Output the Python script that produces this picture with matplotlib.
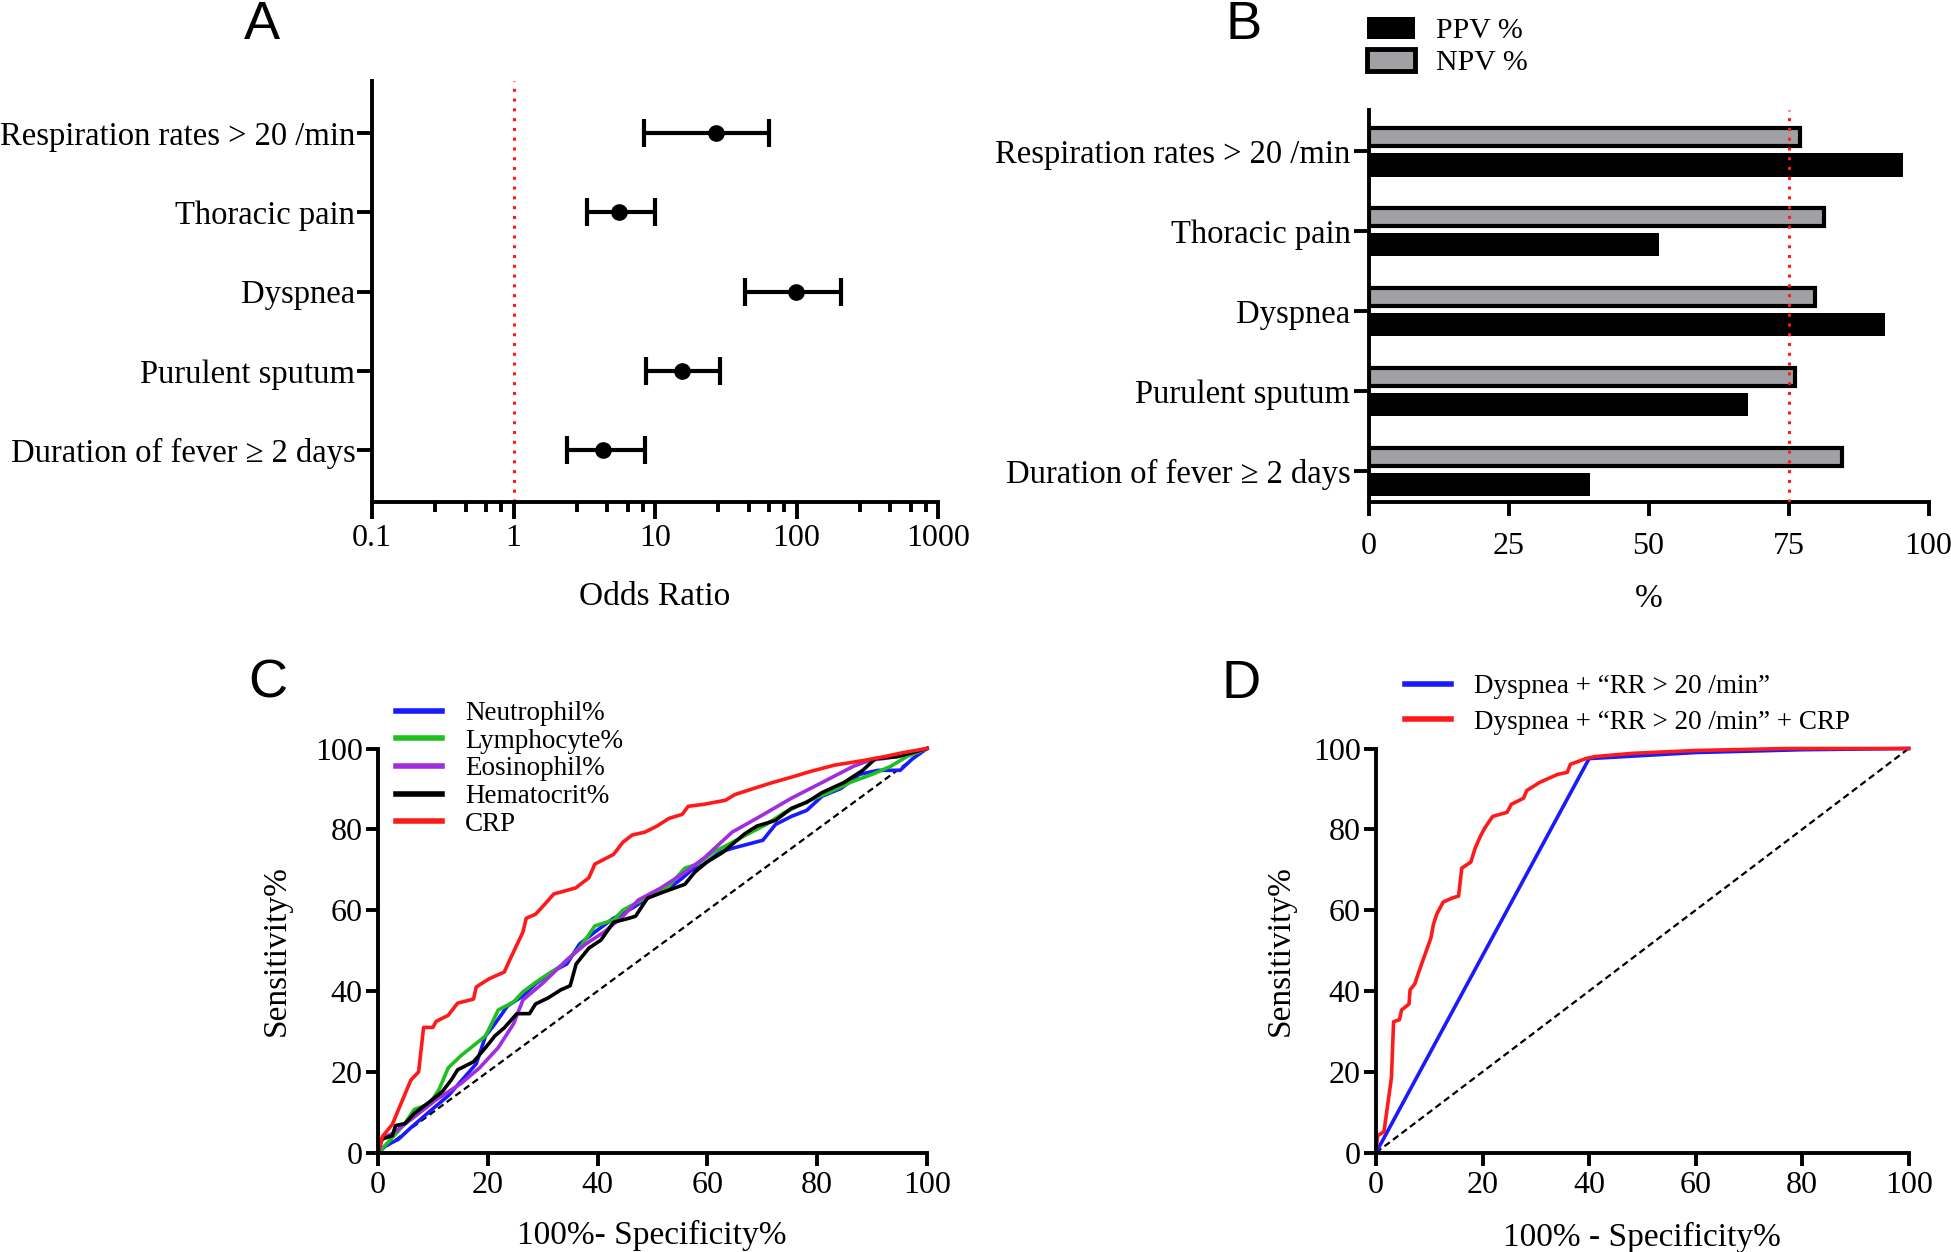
import matplotlib
matplotlib.use('Agg')
import matplotlib.pyplot as plt
from matplotlib.patches import Patch
from matplotlib.lines import Line2D

plt.rcParams['font.family'] = ['Liberation Serif', 'DejaVu Serif']

W, H = 1951, 1252

# Panel A: odds ratios with 95% CI
categories = ['Respiration rates > 20 /min', 'Thoracic pain', 'Dyspnea',
              'Purulent sputum', 'Duration of fever \u2265 2 days']
or_point = [27, 5.6, 99, 15.5, 4.3]
or_low = [8.3, 3.3, 43, 8.6, 2.4]
or_high = [64, 10, 205, 29, 8.5]
or_ticks = [0.1, 1, 10, 100, 1000]
or_tick_labels = ['0.1', '1', '10', '100', '1000']

# Panel B: predictive values
ppv = [95.4, 51.8, 92.2, 67.7, 39.5]
npv = [77.0, 81.4, 79.8, 76.1, 84.5]
pv_ticks = [0, 25, 50, 75, 100]
pv_cutoff = 75

# Panel C: ROC curves of lab values
neut_x = [0, 1.5, 3.7, 6, 9.4, 12.8, 15.7, 17.9, 19.6, 21.3, 23.6, 26.4, 28.7, 31.6, 34.4, 36.7,
          39.5, 42.9, 46.3, 49.1, 52.6, 55.4, 57.1, 59.4, 62.2, 64.5, 67.3, 70.1, 72.4, 75.3,
          78.1, 80.9, 84.3, 87.7, 91.1, 95.1, 97.4, 100]
neut_y = [0, 1.8, 3.3, 6.2, 10.2, 14.1, 18.6, 22, 28.9, 31.9, 36.3, 38.8, 41.8, 44.7, 46.7, 51.6,
          54.6, 58, 60.5, 63, 65, 67.9, 69.9, 71.4, 74.3, 75.3, 76.3, 77.3, 81.2, 83.2,
          84.7, 88.2, 90.1, 93.6, 94.6, 94.6, 97.5, 100]
lymph_x = [0, 2, 4.9, 6.6, 9.4, 11.1, 12.8, 15.1, 17.4, 19.6, 21.9, 24.7, 26.4, 29.3, 33.3, 36.7,
           39.5, 42.9, 44.6, 48, 52.6, 55.9, 58.2, 61, 63.9, 67.3, 70.7, 74.1, 78.7, 82.1, 86,
           90, 93.4, 96.3, 100]
lymph_y = [0, 2.8, 7.2, 10.7, 12.1, 15.6, 21, 24, 26.5, 28.9, 35.3, 37.3, 39.8, 42.7, 46.2, 50.6,
           56.1, 57.6, 60, 62.5, 65.4, 70.4, 71.4, 74.3, 76.3, 78.8, 81.2, 84.2, 87.2, 89.1, 91.6,
           93.6, 95.6, 98, 100]
eos_x = [0, 0.9, 2.6, 6, 10.6, 15.1, 18.5, 21.9, 24.7, 26.4, 29.9, 34.4, 37.8, 41.2, 44.6, 47.4,
         51.4, 55.4, 59.4, 64.5, 69.6, 75.3, 80.9, 86.6, 89.4, 94.6, 100]
eos_y = [0, 3.8, 4.7, 8.2, 13.1, 17.1, 21, 26, 31.9, 37.8, 41.8, 47.7, 51.6, 54.6, 58.5, 62.5,
         65.4, 68.9, 72.9, 79.3, 83.2, 87.7, 91.6, 95.6, 97, 98, 100]
hct_x = [0, 0.6, 2.6, 3.2, 4.9, 6.6, 9.4, 11.7, 13.4, 14.5, 17.4, 19.6, 21.3, 23, 25.3, 27.6, 28.7,
         31, 33.3, 35, 36.1, 38.4, 40.6, 42.9, 45.7, 46.9, 49.1, 52, 55.9, 57.7, 59.9, 62.8, 66.7,
         69, 72.4, 75.3, 78.1, 80.9, 84.9, 88.3, 90.6, 94.6, 100]
hct_y = [0, 3.3, 4.2, 6.7, 7.2, 9.7, 12.6, 15.1, 18.1, 20.5, 22.5, 26, 28.9, 30.9, 34.4, 34.4, 36.8,
         38.3, 40.3, 41.3, 46.7, 50.6, 52.6, 57, 58, 58.5, 63, 64.5, 66.4, 69.4, 71.9, 74.3, 78.8,
         80.8, 82.2, 85.2, 86.7, 89.1, 91.6, 94.6, 97.5, 98, 100]
crp_x = [0, 0.8, 2.6, 6, 7.4, 8.3, 10, 10.6, 12.8, 14.5, 17.4, 17.9, 20.2, 23, 24, 26.4, 27, 28.7,
         30.4, 32, 36, 38.4, 39.5, 42.9, 44.6, 46.3, 48.6, 50.8, 53, 55.4, 56.5, 59.4, 63.3, 65,
         68.4, 71.9, 75.3, 78.7, 83.2, 88.3, 92.3, 95.7, 100]
crp_y = [0, 4, 7, 18, 20, 31, 31, 32.5, 34, 37, 38, 41, 43, 44.7, 47.7, 54.6, 58, 59,
         61.5, 64, 65.5, 68, 71.4, 73.8, 76.8, 78.6, 79.3, 80.8, 82.7, 83.7, 85.7, 86.2, 87.2, 88.6,
         90.1, 91.6, 92.9, 94.3, 95.9, 97, 98, 99, 100]

# Panel D: combined scores
combo_x = [0, 40, 60, 80, 100]
combo_y = [0, 97.5, 99, 99.7, 100]
combo_crp_x = [0, 0.3, 1.5, 2.9, 3.3, 4.4, 4.8, 6.2, 6.4, 7.3, 7.9, 8.7, 10.3, 10.8, 11.4, 12.6,
               14.3, 15.5, 16.1, 17.8, 18.6, 19.6, 20.4, 21.9, 24.6, 25.4, 27.7, 28.3, 30.7, 34.1,
               35.9, 36.5, 39.4, 41.1, 48.1, 59.8, 77.3, 100]
combo_crp_y = [0, 4.2, 5.2, 18.6, 32.4, 32.9, 35.3, 36.8, 40.3, 41.8, 44.2, 47.2, 53.1, 56.6, 59,
               62, 63, 63.5, 70.4, 71.9, 75.3, 78.3, 80.3, 83.2, 84.2, 86.2, 87.7, 89.6, 91.6, 93.6,
               94.1, 96.1, 97.5, 98, 98.8, 99.5, 100, 100]
roc_ticks = [0, 20, 40, 60, 80, 100]

RED = '#ff1a1a'
GRAY = '#a1a1a5'
SPINE_LW = 2.8
TICK_FS = 23
CAT_FS = 23.5
LABEL_FS = 24
LETTER_FONT = ['Liberation Sans Narrow', 'Liberation Sans', 'DejaVu Sans']


def style_axes(ax):
    for side in ['top', 'right']:
        ax.spines[side].set_visible(False)
    for side in ['left', 'bottom']:
        ax.spines[side].set_linewidth(SPINE_LW)
        ax.spines[side].set_capstyle('projecting')


def fig_pos(x0, y0, x1, y1):
    return [x0 / W, 1 - y1 / H, (x1 - x0) / W, (y1 - y0) / H]


def plot_or(ax):
    ypos = list(range(len(categories)))
    xerr = [[p - l for p, l in zip(or_point, or_low)],
            [h - p for p, h in zip(or_point, or_high)]]
    ax.errorbar(or_point, ypos, xerr=xerr, fmt='o', color='k', ms=11,
                elinewidth=3, capsize=10, capthick=3, clip_on=False)
    ax.axvline(1, color=RED, lw=2.2, ls=(0, (1, 2.2)))
    ax.set_xscale('log')
    ax.set_xlim(0.1, 1000)
    ax.set_ylim(4.65, -0.66)
    ax.set_xticks(or_ticks)
    ax.set_xticklabels(or_tick_labels)
    minor = [d * (1 + 1.8 * k) for d in or_ticks[:-1] for k in range(1, 5)]
    ax.set_xticks(minor, minor=True)
    ax.set_yticks(ypos)
    ax.set_yticklabels(categories, fontsize=CAT_FS)
    style_axes(ax)
    ax.tick_params(axis='x', which='major', length=12, width=SPINE_LW, labelsize=TICK_FS, pad=4)
    ax.tick_params(axis='x', which='minor', length=7, width=SPINE_LW, labelbottom=False)
    ax.tick_params(axis='y', length=11, width=SPINE_LW, pad=1)
    ax.set_xlabel('Odds Ratio', fontsize=LABEL_FS, va='center')
    ax.xaxis.set_label_coords(655 / W, 1 - 597 / H, transform=ax.figure.transFigure)


def plot_pv(ax):
    ypos = list(range(len(categories)))
    ax.barh([y - 0.18 for y in ypos], npv, height=0.23, color=GRAY,
            edgecolor='k', linewidth=3, label='NPV %', zorder=2)
    ax.barh([y + 0.17 for y in ypos], ppv, height=0.29, color='k',
            edgecolor='k', linewidth=0, label='PPV %', zorder=2)
    ax.axvline(pv_cutoff, color=RED, lw=2.2, ls=(0, (1, 2.2)), zorder=3)
    ax.set_xlim(0, 100)
    ax.set_ylim(4.38, -0.52)
    ax.set_xticks(pv_ticks)
    ax.set_yticks(ypos)
    ax.set_yticklabels(categories, fontsize=CAT_FS)
    style_axes(ax)
    ax.tick_params(axis='x', length=10, width=SPINE_LW, labelsize=TICK_FS, pad=12)
    ax.tick_params(axis='y', length=11, width=SPINE_LW, pad=2)
    ax.set_xlabel('%', fontsize=LABEL_FS, va='center')
    ax.xaxis.set_label_coords(1649 / W, 1 - 599 / H, transform=ax.figure.transFigure)
    handles = [Patch(facecolor='k', edgecolor='k', linewidth=0),
               Patch(facecolor=GRAY, edgecolor='k', linewidth=3.5)]
    ax.legend(handles, ['PPV %', 'NPV %'], loc='upper left',
              bbox_to_anchor=(1367 / W, 1 - 17 / H), bbox_transform=ax.figure.transFigure,
              frameon=False, borderpad=0, borderaxespad=0, fontsize=21.5,
              handlelength=1.6, handleheight=0.76, handletextpad=0.7, labelspacing=0.15)


def plot_roc(ax, curves, xlabel, xlabel_pos, ylabel_pos, legend_pos, labelspacing):
    ax.plot([0, 100], [0, 100], color='k', lw=1.6, ls=(0, (3, 1.8)), zorder=1)
    for x, y, colour, name in curves:
        ax.plot(x, y, color=colour, lw=2.6, label=name, clip_on=False, zorder=2)
    ax.set_xlim(0, 100)
    ax.set_ylim(0, 100)
    ax.set_xticks(roc_ticks)
    ax.set_yticks(roc_ticks)
    style_axes(ax)
    ax.tick_params(length=9, width=SPINE_LW, labelsize=TICK_FS)
    ax.tick_params(axis='x', pad=4)
    ax.tick_params(axis='y', pad=2)
    ax.set_xlabel(xlabel, fontsize=LABEL_FS, va='center')
    ax.xaxis.set_label_coords(xlabel_pos[0] / W, 1 - xlabel_pos[1] / H, transform=ax.figure.transFigure)
    ax.set_ylabel('Sensitivity%', fontsize=LABEL_FS, va='center')
    ax.yaxis.set_label_coords(ylabel_pos[0] / W, 1 - ylabel_pos[1] / H, transform=ax.figure.transFigure)
    handles = [Line2D([], [], color=c[2], lw=4) for c in curves]
    ax.legend(handles, [c[3] for c in curves], loc='upper left',
              bbox_to_anchor=(legend_pos[0] / W, 1 - legend_pos[1] / H),
              bbox_transform=ax.figure.transFigure, frameon=False, borderpad=0,
              borderaxespad=0, fontsize=19.5, handlelength=1.7, handletextpad=0.85,
              labelspacing=labelspacing)


def main():
    fig = plt.figure(figsize=(W / 100, H / 100), dpi=100)
    ax_a = fig.add_axes(fig_pos(372, 81, 938, 501.5))
    ax_b = fig.add_axes(fig_pos(1368.5, 109.8, 1928.6, 501.5))
    ax_c = fig.add_axes(fig_pos(378, 748.5, 927, 1152.7))
    ax_d = fig.add_axes(fig_pos(1376, 748.5, 1908.7, 1152.7))

    plot_or(ax_a)
    plot_pv(ax_b)
    plot_roc(ax_c,
             [(neut_x, neut_y, '#1a1aff', 'Neutrophil%'),
              (lymph_x, lymph_y, '#1fbf1f', 'Lymphocyte%'),
              (eos_x, eos_y, '#a02ee0', 'Eosinophil%'),
              (hct_x, hct_y, 'k', 'Hematocrit%'),
              (crp_x, crp_y, RED, 'CRP')],
             '100%- Specificity%', (652, 1235), (277, 951), (396, 701), 0.1)
    plot_roc(ax_d,
             [(combo_x, combo_y, '#1a1aff', 'Dyspnea + \u201cRR > 20 /min\u201d'),
              (combo_crp_x, combo_crp_y, RED, 'Dyspnea + \u201cRR > 20 /min\u201d + CRP')],
             '100% - Specificity%', (1642, 1237), (1281, 951), (1405, 674), 0.4)

    for letter, x, y in [('A', 262, 25), ('B', 1244, 25), ('C', 268, 684), ('D', 1241, 684)]:
        fig.text(x / W, 1 - y / H, letter, fontsize=39, ha='center', va='center', family=LETTER_FONT)

    fig.savefig('out.png', dpi=100)


if __name__ == '__main__':
    main()
